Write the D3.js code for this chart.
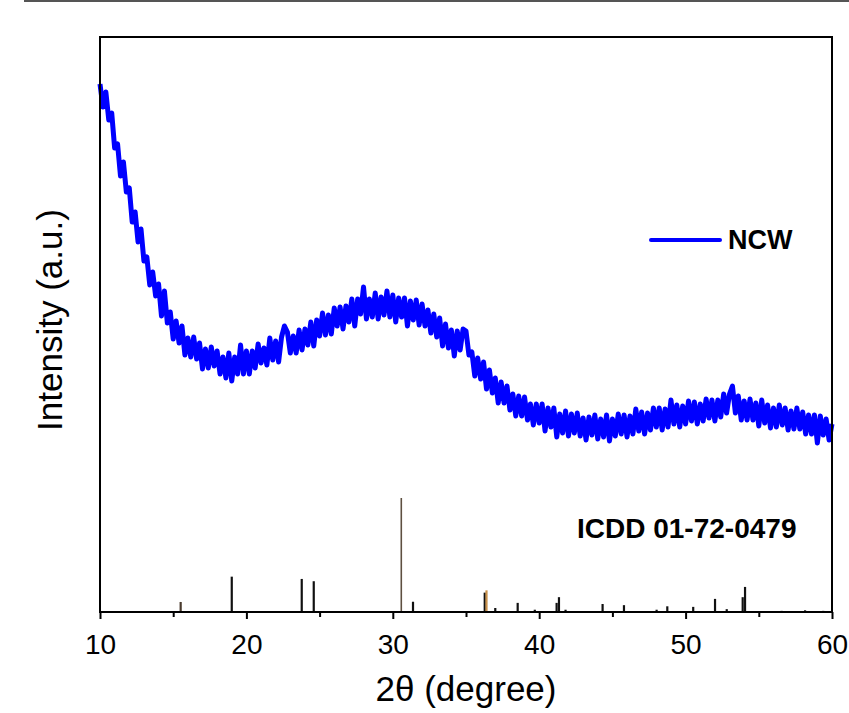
<!DOCTYPE html>
<html>
<head>
<meta charset="utf-8">
<script src="https://cdn.jsdelivr.net/npm/d3@7"></script>
<style>
  body { margin: 0; background: #fff; }
  text { font-family: "Liberation Sans", Arial, sans-serif; }
</style>
</head>
<body>
<div id="app"></div>
<script>
// sizing
const width = 849;
const height = 713;
const frame = {left: 100, right: 832, top: 37, bottom: 612};

// NCW pattern, 2theta from 10 to 60 in 0.2 steps (arbitrary counts)
const twoTheta = d3.range(0, 251).map(i => +(10 + i * 0.2).toFixed(1));
const ncw = [
  528, 505, 520, 492, 499, 464, 468, 436, 450, 420,
  424, 390, 400, 370, 383, 351, 355, 327, 340, 316,
  328, 296, 321, 289, 300, 273, 291, 269, 286, 257,
  274, 255, 275, 253, 269, 243, 263, 244, 265, 246,
  261, 238, 255, 234, 259, 231, 255, 238, 267, 238,
  261, 238, 261, 244, 268, 249, 264, 247, 274, 252,
  271, 250, 275, 286, 280, 259, 276, 259, 282, 262,
  283, 267, 290, 266, 292, 276, 299, 277, 297, 278,
  304, 286, 305, 283, 306, 290, 313, 286, 313, 298,
  325, 293, 313, 295, 319, 293, 315, 297, 321, 295,
  317, 290, 314, 295, 314, 286, 311, 292, 312, 287,
  308, 286, 302, 279, 298, 275, 294, 266, 288, 264,
  282, 256, 281, 262, 283, 281, 257, 260, 236, 254,
  233, 250, 223, 242, 219, 234, 209, 230, 209, 226,
  202, 218, 196, 216, 196, 215, 192, 208, 187, 208,
  189, 208, 181, 204, 185, 204, 175, 198, 179, 201,
  176, 198, 179, 199, 176, 194, 172, 195, 177, 197,
  173, 193, 175, 197, 171, 193, 176, 198, 178, 197,
  175, 196, 178, 203, 181, 200, 178, 199, 182, 204,
  185, 204, 182, 203, 185, 212, 188, 207, 185, 206,
  188, 211, 191, 210, 188, 208, 191, 213, 194, 212,
  191, 212, 195, 218, 199, 218, 226, 199, 216, 192,
  211, 192, 213, 192, 209, 186, 212, 189, 207, 184,
  204, 185, 207, 187, 204, 182, 201, 183, 204, 183,
  200, 178, 197, 178, 197, 169, 196, 177, 193, 172,
  188
];

// ICDD 01-72-0479 reference lines (relative intensity)
const stickPos = [15.51, 19.0, 23.78, 24.6, 30.58, 31.38, 36.28, 36.4, 37.0, 38.53, 39.7,
  41.19, 41.35, 41.8, 44.33, 45.79, 48.02, 48.75, 50.52, 52.01, 52.81, 53.9, 54.06,
  56.56, 58.16, 59.4];
const stickInt = [8.8, 31, 29, 27, 100, 9, 17, 19, 3.5, 8, 2,
  8, 13, 2, 7, 6, 2, 5, 4.5, 11.5, 2.5, 13, 22,
  1, 1.5, 1];

const xMajor = [10, 20, 30, 40, 50, 60];
const xMinor = [15, 25, 35, 45, 55];

const svg = d3.select("#app")
  .append("svg")
    .attr("width", width)
    .attr("height", height);

// grey strip along the very top of the picture
svg.append("rect")
  .attr("x", 24).attr("y", 0)
  .attr("width", width - 24).attr("height", 2)
  .attr("fill", "#555");

const x = d3.scaleLinear().domain([10, 60]).range([frame.left, frame.right]);
const y = d3.scaleLinear().domain([0, 575]).range([frame.bottom, frame.top]);
const yStick = d3.scaleLinear().domain([0, 100]).range([frame.bottom, 498]);

// sticks
const stickColor = p => p === 30.58 ? "#5e4f40" : p === 36.4 ? "#c8904a" : p === 15.51 ? "#4a3b2e" : "#111";
svg.append("g")
  .selectAll("line")
  .data(stickPos.map((p, i) => ({p: p, v: stickInt[i]})))
  .enter().append("line")
    .attr("x1", d => x(d.p))
    .attr("x2", d => x(d.p))
    .attr("y1", y(0))
    .attr("y2", d => yStick(d.v))
    .attr("stroke", d => stickColor(d.p))
    .attr("stroke-width", d => d.p === 30.58 ? 1.6 : 2.2);

// NCW curve
const line = d3.line()
  .x((d, i) => x(twoTheta[i]))
  .y(d => y(d));

svg.append("path")
  .datum(ncw)
  .attr("d", line)
  .attr("fill", "none")
  .attr("stroke", "#0000ff")
  .attr("stroke-width", 5)
  .attr("stroke-linejoin", "round");

// x axis
const xAxis = svg.append("g")
  .attr("transform", "translate(0," + frame.bottom + ")")
  .call(d3.axisBottom(x).tickValues(xMajor).tickSize(7).tickPadding(15).tickFormat(d3.format("d")));
xAxis.select(".domain").remove();
xAxis.selectAll("line").attr("stroke", "#000").attr("stroke-width", 2);
xAxis.selectAll("text")
  .attr("font-size", 28)
  .attr("font-family", "'Liberation Sans', Arial, sans-serif")
  .attr("fill", "#000");

const xMinorAxis = svg.append("g")
  .attr("transform", "translate(0," + frame.bottom + ")")
  .call(d3.axisBottom(x).tickValues(xMinor).tickSize(5).tickFormat(""));
xMinorAxis.select(".domain").remove();
xMinorAxis.selectAll("line").attr("stroke", "#000").attr("stroke-width", 2);

// frame
svg.append("rect")
  .attr("x", frame.left).attr("y", frame.top)
  .attr("width", frame.right - frame.left)
  .attr("height", frame.bottom - frame.top)
  .attr("fill", "none")
  .attr("stroke", "#000")
  .attr("stroke-width", 2);

// axis titles
svg.append("text")
  .attr("x", 466).attr("y", 701)
  .attr("text-anchor", "middle")
  .attr("font-size", 35)
  .text("2θ (degree)");

svg.append("text")
  .attr("transform", "translate(62,320) rotate(-90)")
  .attr("text-anchor", "middle")
  .attr("font-size", 35)
  .text("Intensity (a.u.)");

// legend
svg.append("line")
  .attr("x1", 651).attr("x2", 720)
  .attr("y1", 240).attr("y2", 240)
  .attr("stroke", "#0000ff")
  .attr("stroke-width", 4)
  .attr("stroke-linecap", "round");
svg.append("text")
  .attr("x", 728).attr("y", 249)
  .attr("font-size", 27)
  .attr("font-weight", "bold")
  .text("NCW");

svg.append("text")
  .attr("x", 577).attr("y", 538)
  .attr("font-size", 28)
  .attr("font-weight", "bold")
  .text("ICDD 01-72-0479");
</script>
</body>
</html>
